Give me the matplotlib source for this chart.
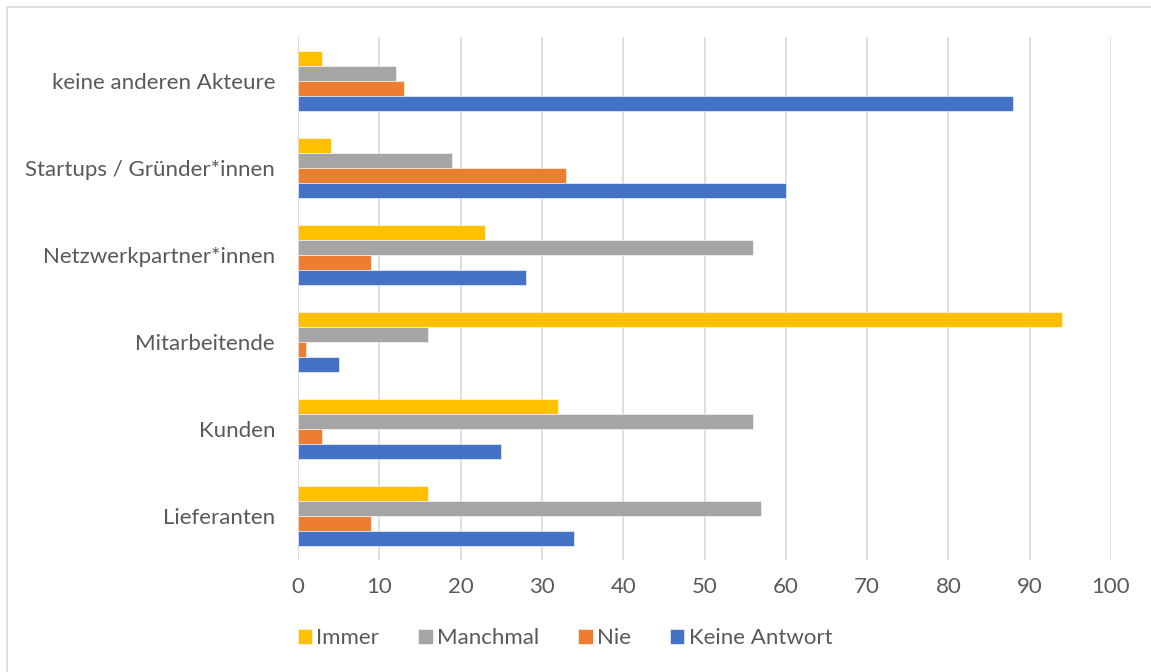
import matplotlib.pyplot as plt
import numpy as np
from matplotlib.patches import Rectangle

plt.rcParams['font.family'] = ['Lato', 'DejaVu Sans']

categories = ['Lieferanten', 'Kunden', 'Mitarbeitende', 'Netzwerkpartner*innen',
              'Startups / Gründer*innen', 'keine anderen Akteure']
immer = [16, 32, 94, 23, 4, 3]
manchmal = [57, 56, 16, 56, 19, 12]
nie = [9, 3, 1, 9, 33, 13]
keine_antwort = [34, 25, 5, 28, 60, 88]

series = [('Immer', immer, '#FFC000'),
          ('Manchmal', manchmal, '#A5A5A5'),
          ('Nie', nie, '#ED7D31'),
          ('Keine Antwort', keine_antwort, '#4472C4')]

fig = plt.figure(figsize=(11.51, 6.72), dpi=100)
ax = fig.add_axes([298 / 1151, 1 - 560 / 672, (1111 - 298) / 1151, (560 - 37) / 672])

# frame of the chart area
fig.patches.append(Rectangle((7 / 1151, -0.1), 1.2, (672 - 7) / 672 + 0.1,
                             transform=fig.transFigure, fill=False,
                             edgecolor='#D9D9D9', linewidth=1.2))

y = np.arange(len(categories))
h = 0.172
offsets = [1.5, 0.5, -0.5, -1.5]
for (name, vals, col), off in zip(series, offsets):
    ax.barh(y + off * h, vals, height=h, color=col, edgecolor='white',
            linewidth=0.4, label=name, zorder=3)

ax.set_xlim(0, 100)
ax.set_ylim(-0.5, len(categories) - 0.5)
ax.set_xticks(range(0, 101, 10))
ax.set_yticks(y)
ax.set_yticklabels(categories)
ax.grid(axis='x', color='#D9D9D9', linewidth=1.2, zorder=0)
for s in ax.spines.values():
    s.set_visible(False)
ax.axvline(0, color='#D9D9D9', linewidth=1.2, zorder=4)
ax.tick_params(length=0, labelsize=16, labelcolor='#595959')
ax.tick_params(axis='x', pad=12)
ax.tick_params(axis='y', pad=16.5)

leg = fig.legend(loc='center', bbox_to_anchor=(565 / 1151, 1 - 638 / 672), ncol=4,
                 frameon=False, fontsize=16, handlelength=0.65, handleheight=0.65,
                 handletextpad=0.2, columnspacing=1.75)
for t in leg.get_texts():
    t.set_color('#595959')

fig.savefig('out.png', dpi=100)
